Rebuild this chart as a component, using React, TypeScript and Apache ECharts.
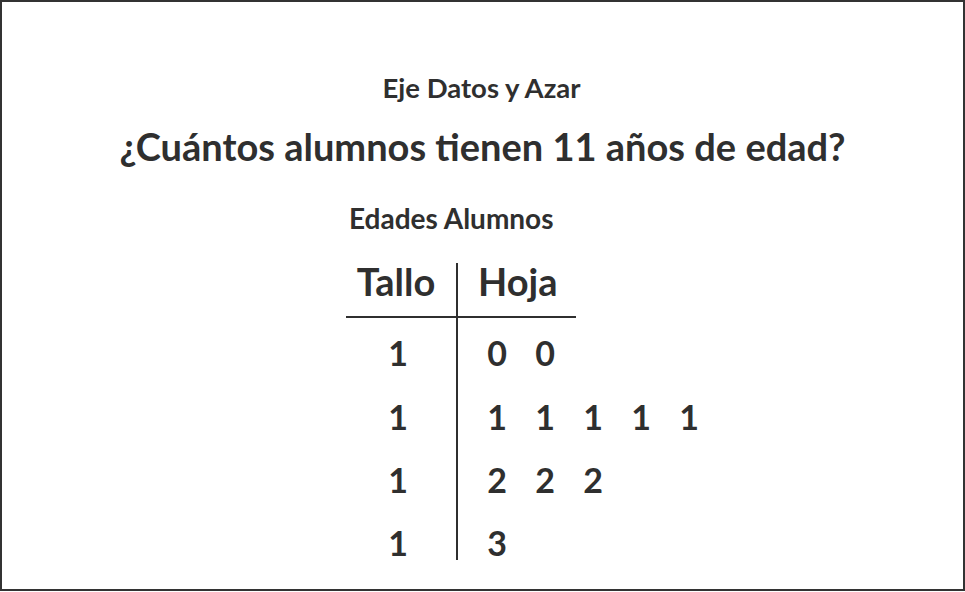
import React, { useEffect, useRef } from "react";
import * as echarts from "echarts";

const subtitleText = "Eje Datos y Azar";
const titleText = "¿Cuántos alumnos tienen 11 años de edad?";
const plotTitle = "Edades Alumnos";
const headers = ["Tallo", "Hoja"];
const stems = [1, 1, 1, 1];
const leaves = [
  [0, 0],
  [1, 1, 1, 1, 1],
  [2, 2, 2],
  [3],
];

const INK = "#2f2f2f";
const FONT = "Lato";

export default function App() {
  const ref = useRef<HTMLDivElement>(null);
  useEffect(() => {
    if (!ref.current) return;
    const chart = echarts.init(ref.current, null, { renderer: "svg" });
    const stemData = stems.map((s, i) => [-2.06, i, s]);
    const leafData: number[][] = [];
    leaves.forEach((row, i) => row.forEach((l, j) => leafData.push([j, i, l])));
    const labelStyle = {
      show: true,
      position: "inside" as const,
      formatter: (p: any) => String(p.value[2]),
      fontFamily: FONT,
      fontWeight: "bold" as const,
      fontSize: 34,
      color: INK,
    };
    const item = { color: "transparent", opacity: 1 };
    chart.setOption({
      animation: false,
      backgroundColor: "#ffffff",
      grid: { left: 353, width: 432, top: 321.3, height: 253.3 },
      xAxis: { type: "value", min: -3, max: 6, show: false },
      yAxis: { type: "value", min: -0.5, max: 3.5, inverse: true, show: false },
      series: [
        { type: "scatter", name: "Tallo", data: stemData, symbolSize: 0, itemStyle: item, label: labelStyle },
        { type: "scatter", name: "Hoja", data: leafData, symbolSize: 0, itemStyle: item, label: labelStyle },
      ],
      graphic: [
        { type: "rect", shape: { x: 1, y: 1, width: 963, height: 589 }, style: { fill: "none", stroke: "#333", lineWidth: 2 } },
        { type: "text", x: 481.5, y: 87, style: { text: subtitleText, fontFamily: FONT, fontWeight: "bold", fontSize: 27.5, fill: INK, textAlign: "center", textVerticalAlign: "middle" } },
        { type: "text", x: 482.5, y: 146, style: { text: titleText, fontFamily: FONT, fontWeight: "bold", fontSize: 38, fill: INK, textAlign: "center", textVerticalAlign: "middle" } },
        { type: "text", x: 349, y: 218, style: { text: plotTitle, fontFamily: FONT, fontWeight: "bold", fontSize: 28, fill: INK, textAlign: "left", textVerticalAlign: "middle" } },
        { type: "text", x: 396, y: 281, style: { text: headers[0], fontFamily: FONT, fontWeight: "bold", fontSize: 38, fill: INK, textAlign: "center", textVerticalAlign: "middle" } },
        { type: "text", x: 478, y: 281, style: { text: headers[1], fontFamily: FONT, fontWeight: "bold", fontSize: 38, fill: INK, textAlign: "left", textVerticalAlign: "middle" } },
        { type: "line", shape: { x1: 346, y1: 317, x2: 576, y2: 317 }, style: { stroke: INK, lineWidth: 2 } },
        { type: "line", shape: { x1: 457, y1: 263, x2: 457, y2: 560 }, style: { stroke: INK, lineWidth: 2 } },
      ],
    });
    return () => chart.dispose();
  }, []);
  return (
    <div
      ref={ref}
      style={{ position: "fixed", left: 0, top: 0, width: 965, height: 592, background: "#fff" }}
    />
  );
}
